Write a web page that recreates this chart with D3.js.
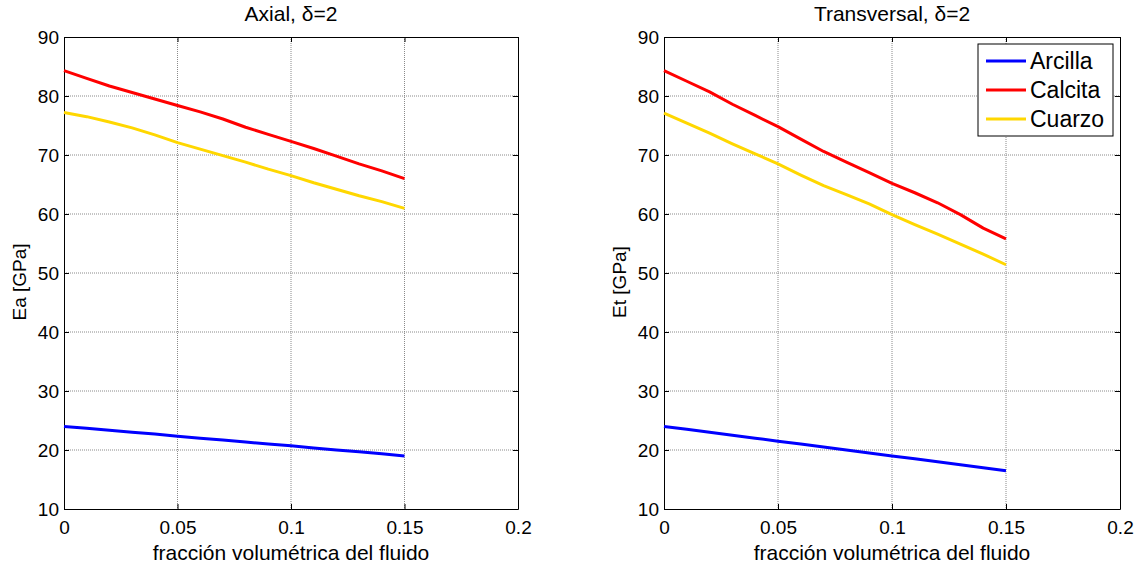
<!DOCTYPE html>
<html><head><meta charset="utf-8">
<script src="https://cdn.jsdelivr.net/npm/d3@7"></script>
<style>body{margin:0;background:#fff}svg{display:block;font-family:"Liberation Sans",Arial,sans-serif}</style>
</head><body><svg id="c" width="1138" height="565"></svg>
<script>
const xTicks = [0, 0.05, 0.1, 0.15, 0.2];
const yTicks = [10, 20, 30, 40, 50, 60, 70, 80, 90];
const seriesNames = ["Arcilla", "Calcita", "Cuarzo"];
const seriesColors = ["#0000ff", "#ff0000", "#ffd700"];
const fraction = [0, 0.01, 0.02, 0.03, 0.04, 0.05, 0.06, 0.07, 0.08, 0.09, 0.1, 0.11, 0.12, 0.13, 0.14, 0.15];
// Axial
const axialArcilla = [24.0, 23.7, 23.35, 23.0, 22.7, 22.35, 22.0, 21.7, 21.35, 21.0, 20.7, 20.35, 20.0, 19.7, 19.35, 19.0];
const axialCalcita = [84.3, 83.0, 81.7, 80.6, 79.5, 78.4, 77.3, 76.1, 74.7, 73.5, 72.3, 71.1, 69.8, 68.5, 67.3, 66.0];
const axialCuarzo  = [77.2, 76.5, 75.6, 74.6, 73.4, 72.1, 71.0, 69.9, 68.8, 67.6, 66.5, 65.3, 64.2, 63.1, 62.1, 60.95];
// Transversal
const transArcilla = [24.0, 23.5, 23.0, 22.5, 22.0, 21.5, 21.0, 20.5, 20.0, 19.5, 19.0, 18.5, 18.0, 17.5, 17.0, 16.5];
const transCalcita = [84.3, 82.5, 80.7, 78.6, 76.7, 74.8, 72.7, 70.6, 68.8, 67.0, 65.2, 63.6, 61.9, 59.9, 57.6, 55.8];
const transCuarzo  = [77.1, 75.4, 73.7, 71.9, 70.2, 68.5, 66.6, 64.8, 63.3, 61.7, 59.9, 58.2, 56.6, 54.9, 53.2, 51.4];

const svg = d3.select("#c");
const TICK_FS = 19, LABEL_FS = 21, YLAB_FS = 19, LEG_FS = 23;

function panel(left, right, title, ylabel, data, legend) {
  const top = 37, bottom = 509;
  const x = d3.scaleLinear().domain([0, 0.2]).range([left, right]);
  const y = d3.scaleLinear().domain([10, 90]).range([bottom, top]);
  const g = svg.append("g");
  // grid
  g.selectAll(".gx").data(xTicks.slice(1, -1)).join("line")
    .attr("x1", d => x(d)).attr("x2", d => x(d)).attr("y1", top).attr("y2", bottom)
    .attr("stroke", "#8a8a8a").attr("stroke-width", 1).attr("stroke-dasharray", "1,1");
  g.selectAll(".gy").data(yTicks.slice(1, -1)).join("line")
    .attr("y1", d => y(d)).attr("y2", d => y(d)).attr("x1", left).attr("x2", right)
    .attr("stroke", "#8a8a8a").attr("stroke-width", 1).attr("stroke-dasharray", "1,1");
  // axes
  const ax = g.append("g").attr("transform", `translate(0,${bottom})`)
    .call(d3.axisBottom(x).tickValues(xTicks).tickFormat(d => d3.format("")(d)).tickSizeInner(-5).tickSizeOuter(0).tickPadding(12));
  const axT = g.append("g").attr("transform", `translate(0,${top})`)
    .call(d3.axisTop(x).tickValues(xTicks).tickFormat("").tickSizeInner(-5).tickSizeOuter(0));
  const ay = g.append("g").attr("transform", `translate(${left},0)`)
    .call(d3.axisLeft(y).tickValues(yTicks).tickSizeInner(-5).tickSizeOuter(0).tickPadding(5));
  const ayR = g.append("g").attr("transform", `translate(${right},0)`)
    .call(d3.axisRight(y).tickValues(yTicks).tickFormat("").tickSizeInner(-5).tickSizeOuter(0));
  [ax, axT, ay, ayR].forEach(a => {
    a.attr("font-family", "Liberation Sans, Arial, sans-serif").attr("font-size", TICK_FS);
    a.selectAll("path").attr("stroke", "#000").attr("stroke-width", 1);
    a.selectAll("line").attr("stroke", "#000");
    a.selectAll("text").attr("fill", "#000");
  });
  // lines
  const line = d3.line().x((d, i) => x(fraction[i])).y(d => y(d));
  data.forEach((s, k) => {
    g.append("path").datum(s).attr("d", line).attr("fill", "none")
      .attr("stroke", seriesColors[k]).attr("stroke-width", 3).attr("stroke-linejoin", "round");
  });
  // title & labels
  g.append("text").attr("x", (left + right) / 2).attr("y", 21).attr("text-anchor", "middle")
    .attr("font-size", LABEL_FS).text(title);
  g.append("text").attr("x", (left + right) / 2).attr("y", 560).attr("text-anchor", "middle")
    .attr("font-size", LABEL_FS).text("fracción volumétrica del fluido");
  g.append("text").attr("transform", `translate(${left - 38},${(top + bottom) / 2 + 9}) rotate(-90)`)
    .attr("text-anchor", "middle").attr("font-size", YLAB_FS).text(ylabel);
  if (legend) {
    const lx = right - 142, ly = 44, lw = 135, lh = 92;
    g.append("rect").attr("x", lx).attr("y", ly).attr("width", lw).attr("height", lh)
      .attr("fill", "#fff").attr("stroke", "#000").attr("stroke-width", 1);
    seriesNames.forEach((n, k) => {
      const yy = ly + 17 + k * 29;
      g.append("line").attr("x1", lx + 8).attr("x2", lx + 48).attr("y1", yy).attr("y2", yy)
        .attr("stroke", seriesColors[k]).attr("stroke-width", 3);
      g.append("text").attr("x", lx + 52).attr("y", yy).attr("dy", "0.36em")
        .attr("font-size", LEG_FS).text(n);
    });
  }
}

panel(64, 518, "Axial, \u03b4=2", "Ea [GPa]", [axialArcilla, axialCalcita, axialCuarzo], false);
panel(664, 1120, "Transversal, \u03b4=2", "Et [GPa]", [transArcilla, transCalcita, transCuarzo], true);
</script></body></html>
